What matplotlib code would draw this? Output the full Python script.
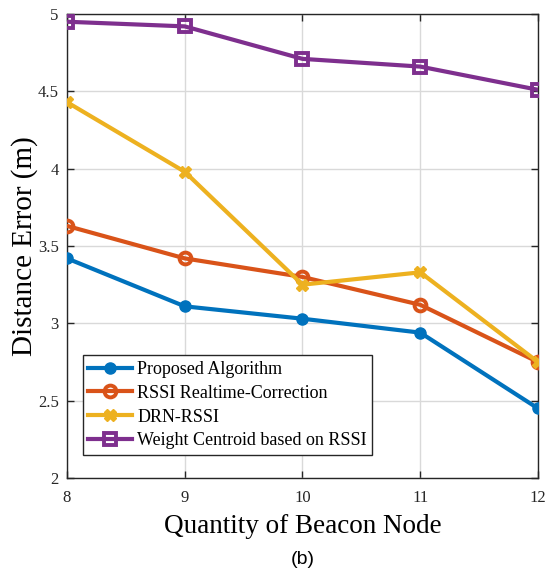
import matplotlib
matplotlib.use("Agg")
import matplotlib.pyplot as plt

beacons = [8, 9, 10, 11, 12]
proposed = [3.42, 3.11, 3.03, 2.94, 2.45]
rssi_rt = [3.63, 3.42, 3.30, 3.12, 2.75]
drn_rssi = [4.43, 3.98, 3.25, 3.33, 2.75]
weight_cent = [4.95, 4.92, 4.71, 4.66, 4.51]
labels = ["Proposed Algorithm", "RSSI Realtime-Correction", "DRN-RSSI",
          "Weight Centroid based on RSSI"]
yticks = [2, 2.5, 3, 3.5, 4, 4.5, 5]
ytick_labels = ["2", "2.5", "3", "3.5", "4", "4.5", "5"]

serif = ["Liberation Serif", "DejaVu Serif"]
fig = plt.figure(figsize=(5.51, 5.74), dpi=100)
ax = fig.add_axes([0.1216, 0.1672, 0.8548, 0.8084])

lw = 3.0
ax.plot(beacons, proposed, color="#0072BD", lw=lw, marker="o", ms=8,
        mfc="#0072BD", mec="#0072BD", label=labels[0], zorder=3)
ax.plot(beacons, rssi_rt, color="#D95319", lw=lw, marker="o", ms=8.5,
        mfc="none", mec="#D95319", mew=2.8, label=labels[1], zorder=3)
ax.plot(beacons, drn_rssi, color="#EDB120", lw=lw, marker="X", ms=8.5,
        mfc="#EDB120", mec="#EDB120", label=labels[2], zorder=3)
ax.plot(beacons, weight_cent, color="#7E2F8E", lw=lw, marker="s", ms=8,
        mfc="none", mec="#7E2F8E", mew=2.8, label=labels[3], zorder=3)

ax.set_xlim(8, 12)
ax.set_ylim(2, 5)
ax.set_xticks(beacons)
ax.set_xticklabels([str(b) for b in beacons], fontfamily=serif, fontsize=12)
ax.set_yticks(yticks)
ax.set_yticklabels(ytick_labels, fontfamily=serif, fontsize=12)
ax.tick_params(direction="in", top=True, right=True, length=5, width=1, colors="#262626")
ax.tick_params(axis="x", pad=8.5)
ax.tick_params(axis="y", pad=6)
ax.grid(True, color="#d9d9d9", lw=1)
for s in ax.spines.values():
    s.set_color("#262626")
    s.set_linewidth(1)

ax.set_xlabel("Quantity of Beacon Node", fontfamily=serif, fontsize=19.5, labelpad=6)
ax.set_ylabel("Distance Error (m)", fontfamily=serif, fontsize=21)
ax.yaxis.set_label_coords(-0.062, 0.5)

leg = ax.legend(loc="lower left", bbox_to_anchor=(0.034, 0.05),
                prop={"family": serif, "size": 13}, frameon=True,
                fancybox=False, edgecolor="#262626", framealpha=1,
                handlelength=2.4, labelspacing=0.38, borderpad=0.3,
                handletextpad=0.3, borderaxespad=0)
leg.get_frame().set_linewidth(1)

fig.text(0.5 * (0.1216 + 0.9764), 1 - 560 / 574, "(b)",
         fontfamily=["Liberation Sans", "DejaVu Sans"], fontsize=14,
         ha="center", va="center")

fig.savefig("out.png", dpi=100)
